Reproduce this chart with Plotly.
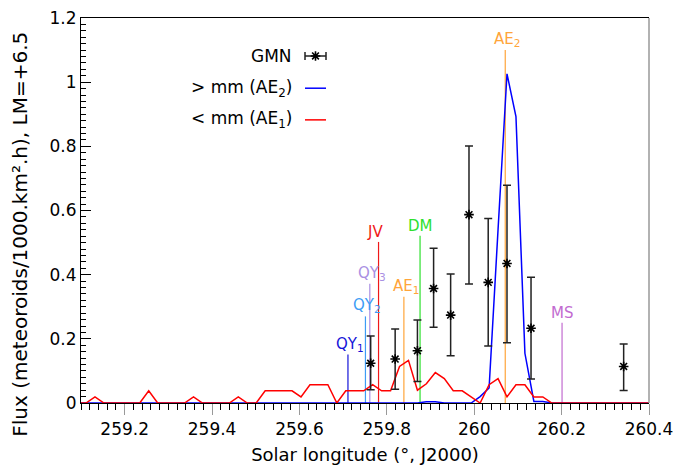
import plotly.graph_objects as go

# ---------------- data ----------------
sol_long = [259.091, 259.1115, 259.132, 259.1525, 259.173, 259.1935, 259.214, 259.2345,
            259.255, 259.2755, 259.296, 259.3165, 259.337, 259.3575, 259.378, 259.3985,
            259.419, 259.4395, 259.46, 259.4805, 259.501, 259.5215, 259.542, 259.5625,
            259.583, 259.6035, 259.624, 259.6445, 259.665, 259.6855, 259.706, 259.7265,
            259.747, 259.7675, 259.788, 259.8085, 259.829, 259.8495, 259.87, 259.8905,
            259.911, 259.9315, 259.952, 259.9725, 259.993, 260.0135, 260.034, 260.0545,
            260.075, 260.0955, 260.116, 260.1365, 260.157, 260.1775, 260.198, 260.2185,
            260.239, 260.2595, 260.28, 260.3005, 260.321, 260.3415, 260.362, 260.3825,
            260.403]

flux_large = [0, 0, 0, 0, 0, 0, 0, 0, 0, 0, 0, 0, 0, 0, 0, 0,
              0, 0, 0, 0, 0, 0, 0, 0, 0, 0, 0, 0, 0, 0, 0, 0,
              0, 0, 0, 0, 0, 0, 0, 0.004, 0.004, 0, 0, 0, 0, 0.02, 0.047, 0.54,
              1.026, 0.893, 0.155, 0.005, 0.005, 0, 0, 0, 0, 0, 0, 0, 0, 0,
              0, 0, 0]

flux_small = [0, 0, 0.019, 0, 0, 0, 0, 0, 0.038, 0, 0, 0, 0, 0.019, 0, 0,
              0, 0, 0.019, 0, 0, 0.038, 0.038, 0.038, 0.038, 0.019, 0.057, 0.057, 0.057, 0, 0.038, 0.038,
              0.038, 0.057, 0.038, 0.038, 0.114, 0.133, 0.04, 0.06, 0.095, 0.076, 0.038, 0.038, 0.019, 0, 0.057, 0.076,
              0.019, 0.057, 0.057, 0.019, 0.019, 0, 0, 0, 0, 0, 0, 0, 0, 0,
              0, 0, 0]

gmn_x = [259.763, 259.819, 259.870, 259.907, 259.946, 259.988, 260.032, 260.075, 260.130, 260.342]
gmn_y = [0.124, 0.137, 0.163, 0.357, 0.274, 0.587, 0.376, 0.435, 0.233, 0.114]
gmn_hi = [0.209, 0.231, 0.259, 0.482, 0.402, 0.801, 0.575, 0.679, 0.392, 0.184]
gmn_lo = [0.041, 0.043, 0.067, 0.236, 0.147, 0.371, 0.178, 0.188, 0.075, 0.039]

shower_labels = ["QY<sub>1</sub>", "QY<sub>2</sub>", "QY<sub>3</sub>", "JV",
                 "AE<sub>1</sub>", "DM", "AE<sub>2</sub>", "MS"]
shower_x = [259.711, 259.751, 259.761, 259.781, 259.839, 259.876, 260.071, 260.201]
shower_top = [0.151, 0.27, 0.372, 0.502, 0.331, 0.521, 1.10, 0.25]

legend_labels = ["GMN", "&gt; mm (AE<sub>2</sub>)", "&lt; mm (AE<sub>1</sub>)"]

x_ticks = [259.2, 259.4, 259.6, 259.8, 260, 260.2, 260.4]
y_ticks = [0, 0.2, 0.4, 0.6, 0.8, 1, 1.2]

x_title = "Solar longitude (°, J2000)"
y_title = "Flux (meteoroids/1000.km².h), LM=+6.5"

# ---------------- styles ----------------
shower_colors = ["#1414d8", "#3d9cf5", "#a98fe3", "#f01818",
                 "#ffa53a", "#2ee02e", "#ffa53a", "#c26bd0"]
label_shift = [2, 2, 2, -4, 2, 0, 2, 0]
FONT = "DejaVu Sans"
BLUE = "#0000ff"
RED = "#ff0000"

fig = go.Figure()

annotations = []
for lab, xv, top, col, sh in zip(shower_labels, shower_x, shower_top, shower_colors, label_shift):
    fig.add_trace(go.Scatter(x=[xv, xv], y=[0, top], mode="lines",
                             line=dict(color=col, width=1.2),
                             hoverinfo="skip", showlegend=False))
    annotations.append(dict(x=xv, y=top, xref="x", yref="y", text=lab,
                            showarrow=False, xanchor="center", yanchor="bottom",
                            xshift=sh, yshift=-1,
                            font=dict(family=FONT, size=15, color=col)))

fig.add_trace(go.Scatter(x=sol_long, y=flux_large, mode="lines",
                         line=dict(color=BLUE, width=1.5), showlegend=False))
fig.add_trace(go.Scatter(x=sol_long, y=flux_small, mode="lines",
                         line=dict(color=RED, width=1.5), showlegend=False))

err_plus = [h - y for h, y in zip(gmn_hi, gmn_y)]
err_minus = [y - l for y, l in zip(gmn_y, gmn_lo)]
STAR = dict(symbol="asterisk-open", size=8, color="black",
            line=dict(color="black", width=1.6))
fig.add_trace(go.Scatter(x=gmn_x, y=gmn_y, mode="markers", marker=STAR,
                         error_y=dict(type="data", symmetric=False, array=err_plus,
                                      arrayminus=err_minus, color="#222222",
                                      thickness=1.5, width=4),
                         showlegend=False))

# ---------------- manual gnuplot-style key ----------------
PX_L, PX_R = 81, 649
PY_T, PY_B = 18, 403.5
def px2paper(px):
    return (px - PX_L) / (PX_R - PX_L)
def py2paper(py):
    return (PY_B - py) / (PY_B - PY_T)

key_text_right = px2paper(293.5)
key_s0, key_s1 = px2paper(305), px2paper(326)
key_rows = [py2paper(56), py2paper(88.3), py2paper(120)]

for lab, yy in zip(legend_labels, key_rows):
    annotations.append(dict(x=key_text_right, y=yy, xref="paper", yref="paper",
                            text=lab, showarrow=False, xanchor="right", yanchor="middle",
                            font=dict(family=FONT, size=17, color="black")))

# y-axis title placed like the reference (rotated)
annotations.append(dict(x=px2paper(20), y=py2paper(235), xref="paper", yref="paper",
                        text=y_title, textangle=-90, showarrow=False,
                        xanchor="center", yanchor="middle",
                        font=dict(family=FONT, size=20, color="black")))

kc = (key_s0 + key_s1) / 2
fig.add_trace(go.Scatter(x=[kc], y=[key_rows[0]], xaxis="x2", yaxis="y2", mode="markers",
                         marker=STAR,
                         error_x=dict(type="constant", value=(key_s1 - key_s0) / 2,
                                      color="#222222", thickness=1.5, width=4),
                         showlegend=False, hoverinfo="skip"))
fig.add_trace(go.Scatter(x=[key_s0, key_s1], y=[key_rows[1]] * 2, xaxis="x2", yaxis="y2",
                         mode="lines", line=dict(color=BLUE, width=1.5),
                         showlegend=False, hoverinfo="skip"))
fig.add_trace(go.Scatter(x=[key_s0, key_s1], y=[key_rows[2]] * 2, xaxis="x2", yaxis="y2",
                         mode="lines", line=dict(color=RED, width=1.5),
                         showlegend=False, hoverinfo="skip"))

fig.update_layout(
    width=673, height=465,
    margin=dict(l=PX_L, r=673 - PX_R, t=PY_T, b=465 - PY_B),
    paper_bgcolor="white", plot_bgcolor="white",
    font=dict(family=FONT, size=17, color="black"),
    showlegend=False, hovermode=False,
    annotations=annotations,
    xaxis=dict(range=[259.1, 260.4], tickmode="linear", tick0=x_ticks[0],
               dtick=round(x_ticks[1] - x_ticks[0], 3),
               ticks="outside", ticklen=11, tickcolor="#999999", tickwidth=1,
               minor=dict(tickmode="linear", tick0=259.1, dtick=0.02, ticks="outside",
                          ticklen=6, tickcolor="black", tickwidth=1),
               showline=True, linecolor="black", linewidth=1, mirror=True,
               showgrid=False, zeroline=False, automargin=False,
               ticklabeloverflow="allow",
               tickfont=dict(family=FONT, size=17),
               title=dict(text=x_title, font=dict(family=FONT, size=18), standoff=10)),
    yaxis=dict(range=[0, 1.2], tickmode="linear", tick0=y_ticks[0],
               dtick=round(y_ticks[1] - y_ticks[0], 3),
               ticks="inside", ticklen=10, tickcolor="black", tickwidth=1,
               minor=dict(dtick=0.02, ticks="inside", ticklen=5, tickcolor="black", tickwidth=1),
               showline=True, linecolor="black", linewidth=1, mirror=False,
               showgrid=False, zeroline=False, automargin=False,
               ticklabeloverflow="allow",
               tickfont=dict(family=FONT, size=17)),
    xaxis2=dict(overlaying="x", range=[0, 1], visible=False, anchor="y2"),
    yaxis2=dict(overlaying="y", range=[0, 1], visible=False, anchor="x2"),
    shapes=[dict(type="line", xref="paper", yref="paper", x0=1, x1=1, y0=0, y1=1,
                 line=dict(color="#999999", width=1.5))],
)

fig.write_html("out.html", config={"displayModeBar": False},
               post_script="document.body.style.margin='0px';"
                           "document.documentElement.style.overflow='hidden';")
